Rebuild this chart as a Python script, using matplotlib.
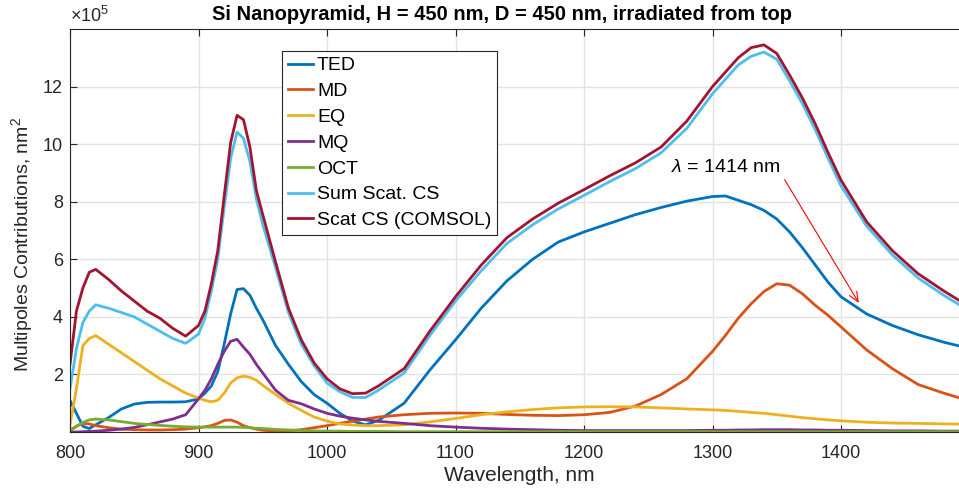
import matplotlib.pyplot as plt

plt.rcParams['font.family'] = ['Liberation Sans', 'DejaVu Sans']
plt.rcParams['mathtext.fontset'] = 'custom'
plt.rcParams['mathtext.rm'] = 'Liberation Sans'
plt.rcParams['mathtext.it'] = 'Liberation Sans:italic'

# wavelength grid, nm
wl = [800, 805, 810, 815, 820, 830, 840, 850, 860, 870, 880, 890, 900, 905, 910,
      915, 920, 925, 930, 935, 940, 945, 950, 960, 970, 980, 990, 1000, 1010, 1020,
      1030, 1040, 1060, 1080, 1100, 1120, 1140, 1160, 1180, 1200, 1220, 1240, 1260,
      1280, 1300, 1310, 1320, 1330, 1340, 1350, 1360, 1370, 1380, 1390, 1400, 1420,
      1440, 1460, 1480, 1500]

# contributions in units of 1e5 nm^2
ted = [1.1, 0.65, 0.2, 0.12, 0.25, 0.5, 0.8, 0.97, 1.03, 1.04, 1.04, 1.05, 1.15, 1.35, 1.6,
       2.1, 3.05, 4.1, 4.95, 4.98, 4.75, 4.3, 3.9, 3.0, 2.35, 1.75, 1.3, 1.0, 0.65, 0.38,
       0.25, 0.4, 1.0, 2.15, 3.2, 4.3, 5.25, 6.0, 6.6, 6.95, 7.25, 7.55, 7.8,
       8.02, 8.18, 8.2, 8.05, 7.9, 7.7, 7.4, 6.95, 6.4, 5.8, 5.2, 4.7, 4.1,
       3.7, 3.38, 3.12, 2.9]
md = [0.05, 0.2, 0.3, 0.28, 0.22, 0.15, 0.1, 0.08, 0.07, 0.07, 0.08, 0.1, 0.15, 0.18, 0.22,
      0.3, 0.4, 0.42, 0.34, 0.22, 0.15, 0.1, 0.06, 0.03, 0.04, 0.08, 0.15, 0.22, 0.3, 0.38,
      0.45, 0.52, 0.6, 0.65, 0.66, 0.65, 0.61, 0.58, 0.57, 0.6, 0.68, 0.9, 1.3,
      1.85, 2.8, 3.35, 3.95, 4.45, 4.88, 5.15, 5.1, 4.8, 4.4, 4.05, 3.65, 2.85,
      2.2, 1.65, 1.35, 1.08]
eq = [0.25, 1.5, 3.0, 3.25, 3.35, 3.05, 2.75, 2.45, 2.15, 1.85, 1.6, 1.35, 1.18, 1.1, 1.05,
      1.1, 1.35, 1.7, 1.88, 1.94, 1.9, 1.8, 1.62, 1.3, 1.0, 0.75, 0.52, 0.38, 0.28, 0.24,
      0.22, 0.22, 0.25, 0.35, 0.47, 0.6, 0.7, 0.78, 0.84, 0.87, 0.88, 0.87, 0.84,
      0.8, 0.77, 0.75, 0.72, 0.68, 0.65, 0.6, 0.55, 0.5, 0.46, 0.42, 0.39, 0.34,
      0.31, 0.3, 0.28, 0.27]
mq = [0.0, 0.0, 0.01, 0.02, 0.03, 0.06, 0.1, 0.16, 0.25, 0.35, 0.45, 0.6, 1.15, 1.45, 1.85,
      2.35, 2.8, 3.15, 3.22, 2.95, 2.7, 2.35, 2.05, 1.45, 1.1, 0.98, 0.8, 0.65, 0.55, 0.48,
      0.42, 0.37, 0.3, 0.22, 0.17, 0.13, 0.1, 0.08, 0.06, 0.05, 0.05, 0.05, 0.05,
      0.05, 0.06, 0.06, 0.07, 0.07, 0.08, 0.08, 0.08, 0.07, 0.07, 0.06, 0.06, 0.05,
      0.04, 0.04, 0.03, 0.03]
oct_ = [0.05, 0.2, 0.33, 0.42, 0.45, 0.42, 0.36, 0.3, 0.26, 0.23, 0.2, 0.18, 0.17, 0.17, 0.17,
        0.17, 0.17, 0.17, 0.17, 0.16, 0.15, 0.13, 0.12, 0.09, 0.07, 0.05, 0.04, 0.03, 0.03, 0.02,
        0.02, 0.02, 0.01, 0.01, 0.01, 0.01, 0.01, 0.01, 0.01, 0.01, 0.01, 0.01, 0.01,
        0.01, 0.01, 0.01, 0.01, 0.01, 0.01, 0.01, 0.01, 0.01, 0.01, 0.01, 0.01, 0.01,
        0.01, 0.01, 0.01, 0.01]
sum_scat = [1.5, 2.9, 3.8, 4.2, 4.42, 4.3, 4.15, 4.0, 3.75, 3.5, 3.25, 3.08, 3.4, 3.95, 4.9,
            6.0, 7.8, 9.5, 10.42, 10.2, 9.4, 8.1, 7.2, 5.7, 4.15, 3.05, 2.3, 1.7, 1.4, 1.2,
            1.2, 1.45, 2.05, 3.35, 4.55, 5.6, 6.55, 7.2, 7.75, 8.22, 8.7, 9.15, 9.7,
            10.55, 11.75, 12.25, 12.75, 13.05, 13.2, 12.95, 12.2, 11.4, 10.5, 9.5, 8.55, 7.15,
            6.15, 5.35, 4.75, 4.2]
scat_comsol = [2.35, 4.2, 5.0, 5.55, 5.65, 5.3, 4.9, 4.55, 4.2, 3.95, 3.6, 3.33, 3.7, 4.2, 5.15,
               6.3, 8.2, 10.05, 11.0, 10.85, 9.9, 8.4, 7.55, 5.9, 4.3, 3.2, 2.4, 1.85, 1.5, 1.33,
               1.35, 1.6, 2.2, 3.5, 4.7, 5.8, 6.75, 7.4, 7.95, 8.42, 8.9, 9.35, 9.9,
               10.8, 12.0, 12.5, 13.0, 13.35, 13.45, 13.15, 12.4, 11.6, 10.7, 9.7, 8.75, 7.3,
               6.3, 5.5, 4.9, 4.35]

labels = ['TED', 'MD', 'EQ', 'MQ', 'OCT', 'Sum Scat. CS', 'Scat CS (COMSOL)']
colors = ['#0072BD', '#D95319', '#EDB120', '#7E2F8E', '#77AC30', '#4DBEEE', '#A2142F']
series = [ted, md, eq, mq, oct_, sum_scat, scat_comsol]

fig = plt.figure(figsize=(9.59, 4.91), dpi=100)
ax = fig.add_axes([70 / 959, 1 - 432 / 491, 899.5 / 959, (432 - 29) / 491])

for s, c, lab in zip(series, colors, labels):
    ax.plot(wl, [v * 1e5 for v in s], color=c, lw=2, label=lab)

ax.set_xlim(800, 1500)
ax.set_ylim(0, 14e5)
ax.set_xticks([800, 900, 1000, 1100, 1200, 1300, 1400])
ax.set_yticks([2e5, 4e5, 6e5, 8e5, 10e5, 12e5])
ax.set_yticklabels(['2', '4', '6', '8', '10', '12'])
ax.grid(True, color='#e3e3e3', lw=1)
ax.set_axisbelow(True)
ax.tick_params(direction='in', length=5, labelsize=13, colors='#262626',
               top=True, right=True, pad=5)
ax.tick_params(axis='x', pad=9)
for sp in ax.spines.values():
    sp.set_color('#262626')
    sp.set_linewidth(0.8)

ax.set_xlabel('Wavelength, nm', fontsize=15, color='#262626', labelpad=3)
ax.set_ylabel('Multipoles Contributions, nm$^2$', fontsize=14, color='#262626')
ax.yaxis.set_label_coords(-0.039, 0.466)
ax.text(0, 1.008, r'$\times10^{5}$', transform=ax.transAxes, fontsize=13,
        color='#262626', ha='left', va='bottom')
fig.text(502 / 959, 1 - 14 / 491, 'Si Nanopyramid, H = 450 nm, D = 450 nm, irradiated from top',
         fontsize=14.5, fontweight='bold', ha='center', va='center')

leg = ax.legend(loc='upper left', bbox_to_anchor=(282 / 959, 1 - 51 / 491),
                bbox_transform=fig.transFigure, fontsize=14, fancybox=False,
                framealpha=1, edgecolor='#262626', handlelength=1.3,
                labelspacing=0.42, borderpad=0.3, handletextpad=0.2,
                borderaxespad=0)
leg.get_frame().set_linewidth(0.8)

ax.text(1268, 9.2e5, r'$\lambda$ = 1414 nm', fontsize=14, va='center', ha='left')
ax.annotate('', xy=(1415, 4.4e5), xytext=(1355, 8.85e5),
            arrowprops=dict(arrowstyle='->,head_length=0.7,head_width=0.3',
                            color='red', lw=0.8))

fig.savefig('out.png', dpi=100)
